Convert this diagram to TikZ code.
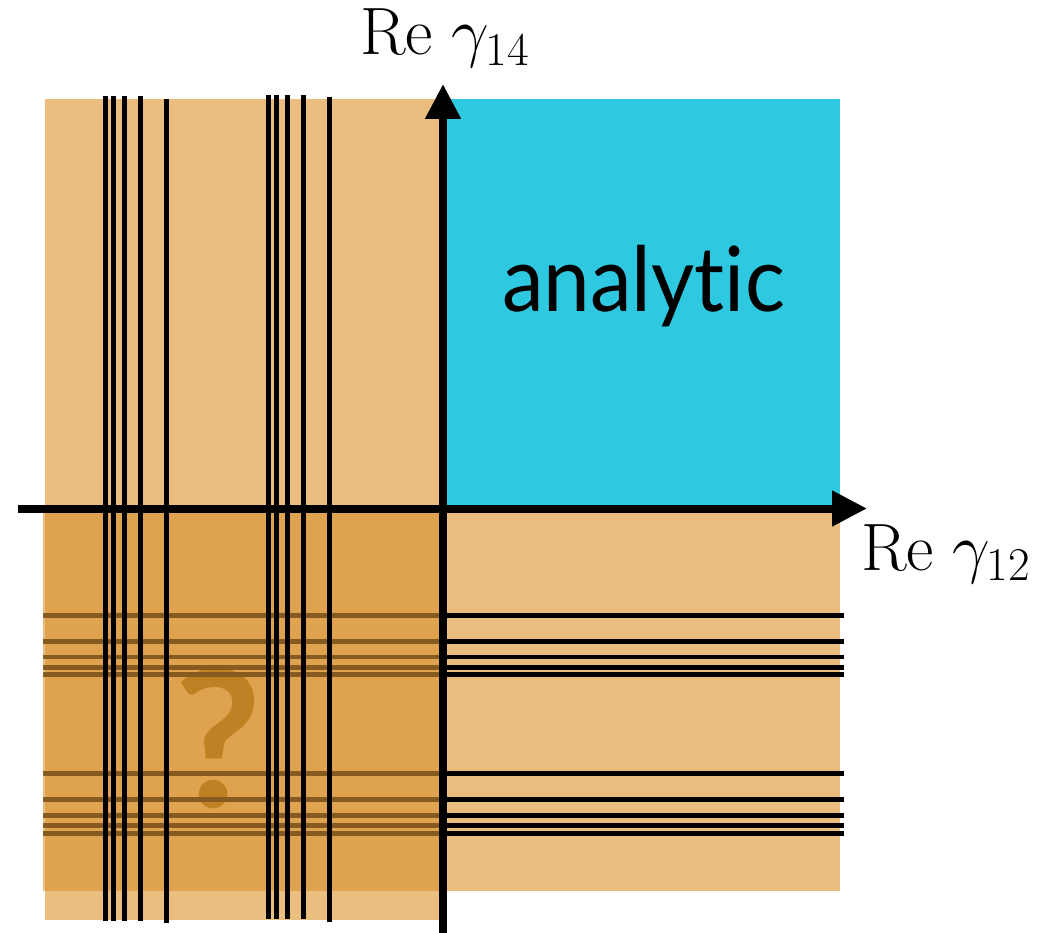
\RequirePackage{fix-cm}
\documentclass[tikz,border=0pt]{standalone}
\usepackage{fontspec}
\newfontfamily\latofont[Ligatures=NoCommon]{Lato}
\usetikzlibrary{arrows.meta}
\definecolor{tanbg}{RGB}{233,190,126}
\definecolor{cyanbox}{RGB}{46,200,224}
\definecolor{overlayc}{RGB}{218,148,52}
\definecolor{qmark}{RGB}{145,100,8}
\newcommand{\subsz}[1]{\mbox{\fontsize{47}{52}\selectfont #1}}
\tikzset{
  vline/.style={line width=5pt},
  hline/.style={line width=4.5pt},
  axis/.style={line width=8pt,-{Triangle[length=35pt,width=34pt]}},
  lbl/.style={inner sep=0pt,anchor=base west,font=\fontsize{67}{75}\selectfont}
}
\begin{document}
\begin{tikzpicture}[x=1pt,y=-1pt]
\useasboundingbox (0,0) rectangle (1039,933);
% backgrounds
\fill[tanbg] (45,99) rectangle (443,920);
\fill[tanbg] (443,99) rectangle (840,891);
\fill[cyanbox] (443,99) rectangle (840,508);
% question mark (beneath overlay)
\node[inner sep=0pt,anchor=base,text=qmark,font=\latofont\bfseries\fontsize{190}{200}\selectfont] (q) at (218,807) {?};
% horizontal lines
\foreach \y in {615.5,641.5,657,667.5,674.5,773.5,799.5,815.5,825.5,833.5}
  \draw[hline] (43,\y) -- (844,\y);
% overlay lower-left quadrant
\fill[overlayc,fill opacity=0.62] (43,508) rectangle (443,891);
% vertical lines
\foreach \x/\t/\b in {105/96/921,113/96/921,124/96/921,140/96/921,166/99/923,268/95/919,276/95/919,287/95/919,303/95/919,329/97/922}
  \draw[vline] (\x,\t) -- (\x,\b);
% axes
\coordinate (xs) at (18,508.5);
\coordinate (xe) at (867,508.5);
\coordinate (ys) at (443,933);
\coordinate (ye) at (443,84);
\draw[axis] (xs) -- (xe);
\draw[axis] (ys) -- (ye);
% labels
\node[lbl] (l14) at (360,55) {$\mathrm{Re}\;\gamma_{\subsz{14}}$};
\node[lbl] (l12) at (861,570) {$\mathrm{Re}\;\gamma_{\subsz{12}}$};
\node[inner sep=0pt,anchor=base,xscale=0.93,font=\latofont\fontsize{90}{100}\selectfont] (an) at (643.5,312) {analytic};
\end{tikzpicture}
\end{document}
